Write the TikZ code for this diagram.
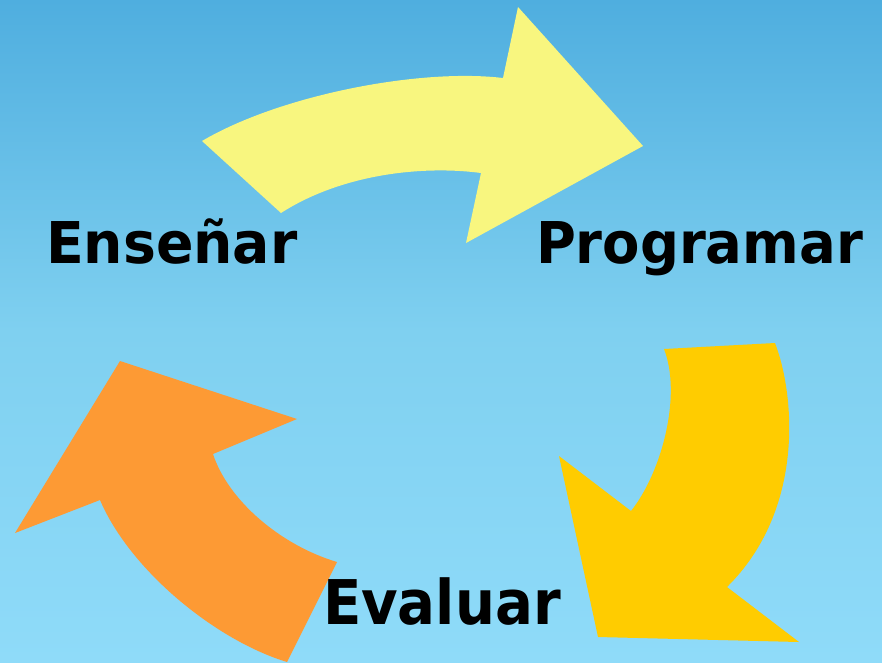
\documentclass[tikz,border=0pt]{standalone}
\usepackage{fontspec}
\setmainfont{DejaVu Sans}
\usepackage{graphicx}
\definecolor{bgtop}{HTML}{4FAEDF}
\definecolor{bgmid}{HTML}{7FD0F0}
\definecolor{bgbot}{HTML}{8FDBF9}
\definecolor{ayellow}{HTML}{F8F67F}
\definecolor{agold}{HTML}{FFCC00}
\definecolor{aorange}{HTML}{FD9A34}
\tikzset{
  label/.style={anchor=base west, inner sep=0pt, outer sep=0pt, text=black, font=\bfseries\fontsize{57.6}{60}\selectfont},
  arrowshape/.style={draw=none}
}
\begin{document}
\begin{tikzpicture}[x=1pt,y=-1pt]
\shade[top color=bgtop, bottom color=bgbot, middle color=bgmid, shading=axis] (0,0) rectangle (882,662);
\useasboundingbox (0,0) rectangle (882,662);
% yellow arrow
\fill[ayellow, arrowshape] (202,141) .. controls (280,95) and (420,68) .. (503,78)
  -- (518,7) -- (643,146) -- (466,243) -- (481,173)
  .. controls (420,165) and (340,175) .. (281,213) -- cycle;
% gold arrow
\fill[agold, arrowshape] (664,349) -- (775,343) .. controls (795,395) and (805,510) .. (727,587)
  -- (799,642) -- (598,637) -- (559,456) -- (631,511)
  .. controls (662,472) and (682,395) .. (664,349) -- cycle;
% orange arrow
\fill[aorange, arrowshape] (120,361) -- (297,419) -- (213,454)
  .. controls (228,500) and (280,545) .. (337,562) -- (287,662)
  .. controls (215,640) and (130,570) .. (100,500) -- (15,533) -- cycle;
% labels
\node[label] (ens) at (46,263) {\scalebox{0.96}[1]{Enseñar}};
\node[label] (prog) at (536,263) {\scalebox{0.945}[1]{Programar}};
\node[label] (eval) at (323,624) {\scalebox{0.975}[1.07]{Evaluar}};
\end{tikzpicture}
\end{document}
